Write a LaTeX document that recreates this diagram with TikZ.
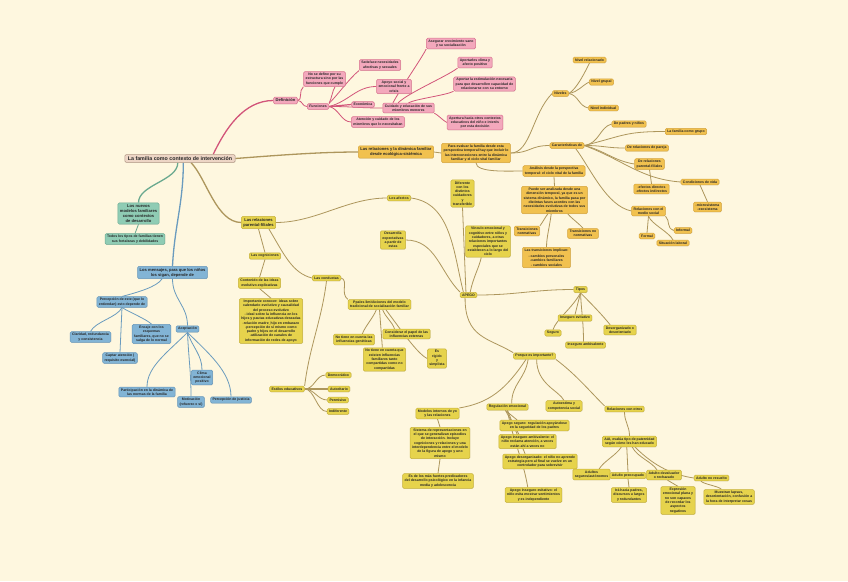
\documentclass[tikz,border=0pt]{standalone}
\usepackage{fontspec}
\setmainfont{Liberation Sans}
\usetikzlibrary{backgrounds,shadows,calc}
\definecolor{bgc}{HTML}{FEF7DF}
\definecolor{pkf}{HTML}{F3A8BC}\definecolor{pkd}{HTML}{D9738F}\definecolor{pkl}{HTML}{D2557A}
\definecolor{gdf}{HTML}{F1C14F}\definecolor{gdd}{HTML}{D6A53C}
\definecolor{ylf}{HTML}{E6D34C}\definecolor{yld}{HTML}{C7B23B}
\definecolor{oll}{HTML}{AD965C}
\definecolor{tlf}{HTML}{8FCCB4}\definecolor{tld}{HTML}{6DAC94}\definecolor{tll}{HTML}{6AA98F}
\definecolor{blf}{HTML}{82B4D5}\definecolor{bld}{HTML}{6797BA}\definecolor{bll}{HTML}{6A9BBE}
\definecolor{mnf}{HTML}{EDD5C5}\definecolor{mnd}{HTML}{B39986}
\newcommand\fsA{\fontsize{3.5}{4.3}\selectfont\bfseries}
\newcommand\fsB{\fontsize{4.1}{4.9}\selectfont\bfseries}
\newcommand\fsC{\fontsize{5.3}{6.2}\selectfont\bfseries}
\begin{document}
\begin{tikzpicture}[x=1pt,y=-1pt,
  box/.style={rectangle, rounded corners=1.3pt, line width=0.5pt, inner xsep=2pt, inner ysep=1.5pt, align=center, font=\fsA, text=black!85,
     drop shadow={shadow xshift=0.4pt, shadow yshift=-0.5pt, opacity=0.18}},
  pk/.style={box, fill=pkf, draw=pkd},
  gd/.style={box, fill=gdf, draw=gdd},
  yl/.style={box, fill=ylf, draw=yld},
  tl/.style={box, fill=tlf, draw=tld},
  bl/.style={box, fill=blf, draw=bld},
  big/.style={font=\fsB, inner ysep=1.8pt},
  pkc/.style={draw=pkl, line width=0.8pt},
  olc/.style={draw=oll, line width=0.8pt},
  tlc/.style={draw=tll, line width=0.8pt},
  blc/.style={draw=bll, line width=0.8pt},
  thick1/.style={line width=1.3pt}]
\useasboundingbox (0,0) rectangle (848,581);

% ---------------- nodes ----------------
\node[box, fill=mnf, draw=mnd, font=\fsC, inner ysep=2pt, inner xsep=3pt] (main) at (180,158.5) {La familia como contexto de intervención};

% pink
\node[pk,big] (def) at (285.5,100.5) {Definición};
\node[pk] (nodef) at (324.5,79) {No se define por su\\estructura sino por las\\funciones que cumple};
\node[pk] (func) at (318,106.5) {Funciones};
\node[pk] (satis) at (380,65) {Satisface necesidades\\afectivas y sexuales};
\node[pk] (apoyo) at (394,86.5) {Apoyo social y\\emocional frente a\\crisis};
\node[pk] (econ) at (363,104.5) {Económica};
\node[pk] (cuid) at (408.5,108) {Cuidado y educación de sus\\miembros menores};
\node[pk] (aten) at (378,122) {Atención y cuidado de los\\miembros que lo necesitaban};
\node[pk] (aseg) at (451,43.5) {Asegurar crecimiento sano\\y su socialización};
\node[pk] (aport) at (475,62.5) {Aportarles clima y\\afecto positivo};
\node[pk] (estim) at (484.5,84) {Aportar la estimulación necesaria\\para que desarrollen capacidad de\\relacionarse con su entorno};
\node[pk] (apert) at (475,122.5) {Apertura hacia otros contextos\\educativos del niño e interés\\por esta decisión};

% gold
\node[gd,big] (rdf) at (396,152) {Las relaciones y la dinámica familiar\\desde ecológica-sistémica};
\node[gd] (para) at (476,153) {Para evaluar la familia desde esta\\perspectiva temporal hay que incluir lo\\las interconexiones entre la dinámica\\familiar y el ciclo vital familiar};
\node[gd] (anal) at (554,171) {Análisis desde la perspectiva\\temporal: el ciclo vital de la familia};
\node[gd] (puede) at (554.5,200) {Puede ser analizada desde una\\dimensión temporal, ya que es un\\sistema dinámico, la familia pasa por\\distintas fases acordes con las\\necesidades evolutivas de todos sus\\miembros};
\node[gd] (tnorm) at (527,231) {Transiciones\\normativas};
\node[gd] (tnon) at (583,233.5) {Transiciones no\\normativas};
\node[gd] (timp) at (546.5,257.5) {Las transiciones implican:\\[2pt] - cambios personales\\-cambios familiares\\- cambios sociales};
\node[gd] (niv) at (560.5,93.5) {Niveles};
\node[gd] (nrel) at (589.5,60) {Nivel relacionado};
\node[gd] (ngru) at (601.5,82) {Nivel grupal};
\node[gd] (nind) at (603.5,108) {Nivel individual};
\node[gd] (carac) at (567,145.5) {Características de};
\node[gd] (dpn) at (629,124) {De padres y niños};
\node[gd] (lfg) at (686,131.5) {La familia como grupo};
\node[gd] (drp) at (647,148) {De relaciones de pareja};
\node[gd] (drpf) at (649.5,164) {De relaciones\\parental-filiales};
\node[gd] (cond) at (700,182) {Condiciones de vida};
\node[gd] (efec) at (651.5,189) {-efectos directos\\-efectos indirectos};
\node[gd] (micro) at (707.5,207) {-microsistema\\-exosistema};
\node[gd] (rms) at (648.5,211) {Relaciones con el\\medio social};
\node[gd] (inf) at (683,230.5) {Informal};
\node[gd] (form) at (647,236) {Formal};
\node[gd] (sitl) at (673,243) {Situación laboral};

% yellow
\node[yl,big] (rpf) at (258.5,222.5) {Las relaciones\\parental-filiales};
\node[yl] (cog) at (265,256) {Las cogniciones};
\node[yl] (cont) at (259.5,283) {Contenido de las ideas\\evolutivo-explicativas};
\node[yl] (imp) at (271,321) {Importante conocer: ideas sobre\\calendario evolutivo y causalidad\\del proceso evolutivo\\- ideal sobre la influencia en los\\hijos y pautas educativas deseadas\\-relación madre\_hijo en embarazo\\-percepción de sí mismo como\\padre y hijos en el desarrollo\\-utilización de canales de\\información de redes de apoyo};
\node[yl] (cond2) at (326.5,278) {Las conductas};
\node[yl] (pautas) at (379.5,304.5) {Ppales limitAciones del modelo\\tradicional de socialización familiar};
\node[yl] (gen) at (354,339.5) {No tiene en cuenta las\\influencias genéticas};
\node[yl] (consid) at (406.5,334) {Considerar el papel de las\\influencias externas};
\node[yl] (compart) at (384.5,359.5) {No tiene en cuenta que\\existen influencias\\familiares tanto\\compartidas como no\\compartidas};
\node[yl] (rigido) at (437,358.5) {Es\\rígido\\y\\simplista};
\node[yl] (estilos) at (287,389) {Estilos educativos};
\node[yl] (demo) at (338.5,375) {Democrático};
\node[yl] (autor) at (339,389) {Autoritario};
\node[yl] (perm) at (338,400) {Permisivo};
\node[yl] (indif) at (338,411.5) {Indiferente};
\node[yl] (afect) at (399,198) {Los afectos};
\node[yl] (desar) at (393,240) {Desarrolla\\expectativas\\a partir de\\estas};
\node[yl] (apego) at (468.5,295) {APEGO};
\node[yl] (vinc) at (488,241.5) {Vínculo emocional y\\cognitivo entre niños y\\cuidadores, a otras\\relaciones importantes\\especiales que se\\establecen a lo largo del\\ciclo};
\node[yl] (dif) at (462.5,193.5) {Diferente\\con los\\distintos\\cuidadores\\y\\transferible};
\node[yl] (tipos) at (580.5,289.5) {Tipos};
\node[yl] (insev) at (575,318) {Inseguro evitativo};
\node[yl] (seg) at (553,333) {Seguro};
\node[yl] (desorg) at (620,330) {Desorganizado o\\desorientado};
\node[yl] (insamb) at (585.5,345) {Inseguro ambivalente};
\node[yl] (porq) at (534.5,356) {Porque es importante?};
\node[yl] (model) at (437.5,413.5) {Modelos internos de yo\\y las relaciones};
\node[yl] (sist) at (440,443) {Sistema de representaciones en\\el que se generalizan episodios\\de interacción. Incluye\\cogniciones y relaciones y una\\interdependencia entre el modelo\\de la figura de apego y uno\\mismo};
\node[yl] (esde) at (438,481) {Es de los más fuertes predicadores\\del desarrollo psicológico en la infancia\\media y adolescencia};
\node[yl] (regu) at (507.5,407) {Regulación emocional};
\node[yl] (autoe) at (564,406) {Autoestima y\\competencia social};
\node[yl] (relo) at (624.5,409) {Relaciones con otros};
\node[yl] (aseg2) at (534.5,425.5) {Apego seguro: regulación apoyándose\\en la seguridad de los padres};
\node[yl] (amb) at (527.5,441.5) {Apego inseguro ambivalente: el\\niño reclama atención, a veces\\están ahí a veces no};
\node[yl] (desorg2) at (540,461.5) {Apego desorganizado: el niño no aprende\\estrategia pero al final se vuelve en un\\controlador para sobrevivir};
\node[yl] (evit) at (533.5,495) {Apego inseguro evitativo: el\\niño evita mostrar sentimientos\\y es independiente};
\node[yl] (aai) at (629.5,441.5) {AAI, evalúa tipo de paternidad\\según cómo les han educado};
\node[yl] (aseg3) at (591.5,474.5) {Adultos\\seguros/autónomos};
\node[yl] (preoc) at (628,475.5) {Adulto preocupado};
\node[yl] (deval) at (664,475) {Adulto devaluador\\o rechazado};
\node[yl] (nores) at (711.5,478) {Adulto no resuelto};
\node[yl] (ira) at (629,495) {Irá hacia padres,\\discursos u largos\\y redundantes};
\node[yl] (expr) at (678,500.5) {Expresión\\emocional plana y\\no son capaces\\de recordar los\\aspectos\\negativos};
\node[yl] (muest) at (729,497) {Muestran lapsus,\\desorientación, confusión a\\la hora de interpretar cosas};

% teal
\node[tl,big] (nuevos) at (138.5,213.5) {Los nuevos\\modelos familiares\\como contextos\\de desarrollo};
\node[tl] (todos) at (135,239) {Todos los tipos de familias tienen\\sus fortalezas y debilidades};

% blue
\node[bl,big] (mens) at (172.5,272.5) {Los mensajes, para que los niños\\los sigan, depende de};
\node[bl] (perc) at (122,302) {Percepción de este (que lo\\entiendan) esto depende de};
\node[bl] (clar) at (90.5,337) {Claridad, redundancia\\y consistencia};
\node[bl] (capt) at (120,358) {Captar atención (\\requisito esencial)};
\node[bl] (enc) at (151.5,334) {Encaje con los\\esquemas\\familiares, que no se\\salga de lo normal};
\node[bl] (acep) at (187.5,329) {Aceptación};
\node[bl] (clima) at (202,377.5) {Clima\\emocional\\positivo};
\node[bl] (part) at (147,392) {Participación en la dinámica de\\las normas de la familia};
\node[bl] (motiv) at (191,402) {Motivación\\(refuerzo x sí)};
\node[bl] (just) at (231,400) {Percepción de justicia};

% ---------------- connectors ----------------
\begin{scope}[on background layer]
\fill[bgc] (0,0) rectangle (848,581);
% main branches
\draw[pkc,thick1] ($(main.north west)!0.8!(main.north east)$) .. controls +(12,-25) and +(-30,0) .. (def.west);
\draw[olc,thick1] (main.east) .. controls +(40,-3) and +(-40,0) .. (rdf.west);
\draw[tlc,thick1] ($(main.south west)!0.48!(main.south east)$) .. controls +(0,18) and +(0,-18) .. (nuevos.north);
\draw[blc,thick1] ($(main.south west)!0.53!(main.south east)$) .. controls +(0,40) and +(2,-40) .. (mens.north);
\draw[olc,thick1] ($(main.south west)!0.6!(main.south east)$) .. controls +(15,15) and +(-25,0) .. (rpf.west);
% pink
\draw[pkc] (def.east) .. controls +(5,0) and +(-5,4) .. (nodef.south west);
\draw[pkc] (def.east) .. controls +(5,0) and +(-5,0) .. (func.west);
\draw[pkc] (func.north east) .. controls +(3,-6) and +(-3,5) .. ($(nodef.south west)!0.75!(nodef.south east)$);
\draw[pkc] (func.north east) .. controls +(10,-10) and +(-10,8) .. (satis.south west);
\draw[pkc] (func.east) .. controls +(20,-5) and +(-20,0) .. (apoyo.west);
\draw[pkc,line width=1.2pt] (func.east) -- (econ.west);
\draw[pkc] (func.east) .. controls +(25,0) and +(-25,0) .. (cuid.west);
\draw[pkc] (func.east) .. controls +(10,2) and +(-10,0) .. (aten.west);
\draw[pkc] ($(cuid.north west)!0.2!(cuid.north east)$) .. controls +(8,-15) and +(-5,10) .. (aseg.south west);
\draw[pkc] ($(cuid.north west)!0.3!(cuid.north east)$) .. controls +(10,-10) and +(-10,8) .. (aport.south west);
\draw[pkc] ($(cuid.north west)!0.5!(cuid.north east)$) .. controls +(8,-4) and +(-8,4) .. (estim.south west);
\draw[pkc] (cuid.south east) .. controls +(4,2) and +(-4,-2) .. (apert.west);
% teal
\draw[tlc] (nuevos.south) -- (todos.north);
% blue
\draw[blc] ($(mens.south west)!0.35!(mens.south east)$) .. controls +(-5,8) and +(15,-4) .. (perc.north);
\draw[blc] ($(mens.south west)!0.5!(mens.south east)$) .. controls +(0,20) and +(0,-20) .. (acep.north);
\draw[blc] (perc.south) .. controls +(-5,10) and +(5,-10) .. (clar.north);
\draw[blc] (perc.south) -- (capt.north);
\draw[blc] (perc.south) .. controls +(8,5) and +(-5,-5) .. (enc.north);
\draw[blc] (acep.south) .. controls +(-20,20) and +(0,-20) .. (part.north);
\draw[blc] (acep.south) .. controls +(1,25) and +(0,-25) .. (motiv.north);
\draw[blc] (acep.south) .. controls +(5,15) and +(0,-15) .. (clima.north);
\draw[blc] (acep.south) .. controls +(20,20) and +(0,-25) .. (just.north);
% gold
\draw[olc] (rdf.east) -- (para.west);
\draw[olc] (para.east) .. controls +(20,0) and +(-20,20) .. (niv.west);
\draw[olc] (para.east) .. controls +(20,0) and +(-20,0) .. (carac.west);
\draw[olc] (para.south) .. controls +(0,10) and +(-15,0) .. (anal.west);
\draw[olc] (anal.south) -- (puede.north);
\draw[olc] ($(puede.south west)!0.4!(puede.south east)$) .. controls +(-3,4) and +(3,-4) .. (tnorm.north east);
\draw[olc] ($(puede.south west)!0.45!(puede.south east)$) .. controls +(-1,10) and +(0,-10) .. (timp.north);
\draw[olc] ($(puede.south west)!0.7!(puede.south east)$) .. controls +(3,4) and +(-3,-4) .. (tnon.north);
\draw[olc] (niv.east) .. controls +(8,-5) and +(-5,10) .. (nrel.south);
\draw[olc] (niv.east) .. controls +(10,-2) and +(-8,4) .. (ngru.west);
\draw[olc] (niv.east) .. controls +(10,2) and +(-10,-2) .. (nind.west);
\draw[olc] (carac.east) .. controls +(15,-2) and +(-12,3) .. (dpn.west);
\draw[olc] (carac.east) .. controls +(40,-10) and +(-40,0) .. (lfg.west);
\draw[olc] (carac.east) .. controls +(20,0) and +(-20,0) .. (drp.west);
\draw[olc] (carac.east) .. controls +(20,5) and +(-20,-3) .. (drpf.west);
\draw[olc] (carac.east) .. controls +(40,15) and +(-40,-3) .. (cond.west);
\draw[olc] ($(carac.south west)!0.75!(carac.south east)$) .. controls +(15,20) and +(-25,-5) .. (rms.west);
\draw[olc] (drpf.south) -- (efec.north);
\draw[olc] (cond.south) -- (micro.north);
\draw[olc] (rms.south) -- (form.north);
\draw[olc] (rms.south) .. controls +(3,8) and +(-4,-8) .. (sitl.north);
\draw[olc] (rms.south east) .. controls +(5,5) and +(-8,-3) .. (inf.west);
% yellow
\draw[olc] (rpf.east) .. controls +(40,0) and +(-40,0) .. (afect.west);
\draw[olc] (rpf.south) -- (cog.north);
\draw[olc] (cog.south) -- (cont.north);
\draw[olc] (cont.south) -- (imp.north);
\draw[olc] ($(rpf.south west)!0.8!(rpf.south east)$) .. controls +(15,25) and +(-20,-5) .. (cond2.west);
\draw[olc] (cond2.east) .. controls +(8,2) and +(-8,-6) .. (pautas.north west);
\draw[olc] (cond2.south) .. controls +(-5,40) and +(5,-40) .. (estilos.north east);
\draw[olc] (estilos.east) .. controls +(10,0) and +(-10,0) .. (demo.west);
\draw[olc,line width=1.1pt] (estilos.east) -- (autor.west);
\draw[olc] (estilos.east) .. controls +(10,0) and +(-10,0) .. (perm.west);
\draw[olc] (estilos.east) .. controls +(10,0) and +(-10,0) .. (indif.west);
\draw[olc] ($(pautas.south west)!0.45!(pautas.south east)$) .. controls +(-3,8) and +(3,-8) .. ($(gen.north west)!0.7!(gen.north east)$);
\draw[olc] ($(pautas.south west)!0.5!(pautas.south east)$) -- ($(compart.north west)!0.45!(compart.north east)$);
\draw[olc] ($(pautas.south west)!0.55!(pautas.south east)$) .. controls +(3,8) and +(-3,-8) .. ($(consid.north west)!0.25!(consid.north east)$);
\draw[olc] ($(pautas.south west)!0.6!(pautas.south east)$) .. controls +(15,20) and +(-10,-5) .. (rigido.west);
\draw[olc] (afect.east) .. controls +(40,5) and +(-10,-40) .. ($(apego.north west)!0.2!(apego.north east)$);
\draw[olc] (desar.east) .. controls +(30,0) and +(-20,-20) .. (apego.north west);
\draw[olc] ($(apego.north west)!0.35!(apego.north east)$) -- (dif.south);
\draw[olc] ($(apego.north west)!0.6!(apego.north east)$) .. controls +(3,-15) and +(-2,10) .. ($(vinc.south west)!0.35!(vinc.south east)$);
\draw[olc] (apego.east) .. controls +(40,0) and +(-40,0) .. (tipos.west);
\draw[olc] (tipos.south) .. controls +(-2,8) and +(2,-8) .. (insev.north);
\draw[olc] (tipos.south) .. controls +(-8,15) and +(3,-10) .. (seg.north);
\draw[olc] (tipos.south) .. controls +(1,20) and +(0,-20) .. ($(insamb.north west)!0.45!(insamb.north east)$);
\draw[olc] (tipos.south) .. controls +(10,10) and +(-8,-10) .. ($(desorg.north west)!0.2!(desorg.north east)$);
\draw[olc] ($(apego.south west)!0.3!(apego.south east)$) .. controls +(0,40) and +(-25,-15) .. (porq.north west);
\draw[olc] ($(porq.south west)!0.3!(porq.south east)$) .. controls +(-20,30) and +(30,-5) .. (model.north east);
\draw[olc] ($(porq.south west)!0.35!(porq.south east)$) .. controls +(-3,20) and +(0,-20) .. ($(regu.north west)!0.6!(regu.north east)$);
\draw[olc] ($(porq.south west)!0.55!(porq.south east)$) .. controls +(0,25) and +(-5,-10) .. (autoe.north);
\draw[olc] (porq.south east) .. controls +(20,15) and +(-15,-15) .. (relo.north west);
\draw[olc] ($(regu.south west)!0.45!(regu.south east)$) -- ($(aseg2.north west)!0.25!(aseg2.north east)$);
\draw[olc] ($(regu.south west)!0.45!(regu.south east)$) -- ($(amb.north west)!0.35!(amb.north east)$);
\draw[olc] ($(regu.south west)!0.5!(regu.south east)$) -- ($(desorg2.north west)!0.3!(desorg2.north east)$);
\draw[olc] ($(regu.south west)!0.5!(regu.south east)$) .. controls +(5,30) and +(-5,-30) .. ($(evit.north west)!0.4!(evit.north east)$);
\draw[olc] (model.south) -- (sist.north);
\draw[olc] (sist.south) -- (esde.north);
\draw[olc] (relo.south) .. controls +(0,10) and +(0,-10) .. (aai.north);
\draw[olc] ($(aai.south west)!0.35!(aai.south east)$) .. controls +(-5,8) and +(5,-8) .. ($(aseg3.north west)!0.7!(aseg3.north east)$);
\draw[olc] ($(aai.south west)!0.45!(aai.south east)$) -- (preoc.north);
\draw[olc] ($(aai.south west)!0.55!(aai.south east)$) .. controls +(5,10) and +(-5,-8) .. ($(deval.north west)!0.3!(deval.north east)$);
\draw[olc] ($(aai.south west)!0.6!(aai.south east)$) .. controls +(20,20) and +(-20,-3) .. (nores.west);
\draw[olc] (preoc.south) -- (ira.north);
\draw[olc] ($(deval.south west)!0.6!(deval.south east)$) -- (expr.north);
\draw[olc] ($(nores.south west)!0.2!(nores.south east)$) .. controls +(2,3) and +(-2,-3) .. ($(muest.north west)!0.35!(muest.north east)$);
\end{scope}
\end{tikzpicture}
\end{document}
